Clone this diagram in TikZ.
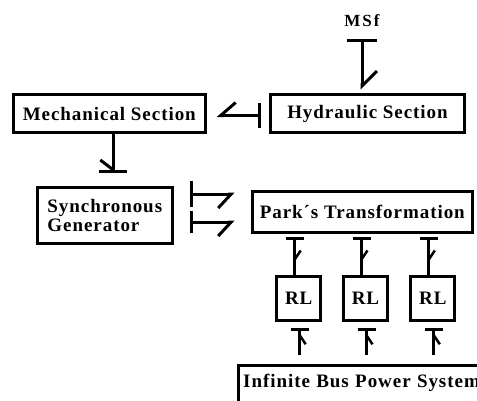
\documentclass[tikz,border=0pt]{standalone}
\usepackage{fontspec}
\setmainfont{Liberation Serif}
\newfontfamily\blockfont[LetterSpace=5]{Liberation Serif}
\newfontfamily\sourcefont[LetterSpace=12]{Liberation Serif}
\usetikzlibrary{arrows.meta,decorations.markings}

\begin{document}
\begin{tikzpicture}[x=1pt, y=-1pt,
    flag/.style={postaction={decorate, decoration={markings,
        mark=at position #1 with {\arrow{Straight Barb[harpoon, length=9pt, width=12pt, line width=2.5pt]}}}}},
    flag swap/.style={postaction={decorate, decoration={markings,
        mark=at position #1 with {\arrow{Straight Barb[harpoon, swap, length=9pt, width=12pt, line width=2.5pt]}}}}}]
    \tikzstyle{every node}+=[inner sep=0pt]
    \tikzstyle{block}=[draw=black, line width=3pt, font=\blockfont\bfseries\fontsize{19}{18.5}\selectfont]
    \tikzstyle{bond}=[black, line width=3pt]
    \path [use as bounding box, clip] (0,0) rectangle (477,400);
    % blocks
    \node [block, minimum width=191.7pt, minimum height=38.6pt] (mech) at (109.3,113.5) {Mechanical Section};
    \node [block, minimum width=193.4pt, minimum height=38.6pt] (hyd) at (367.5,113.5) {Hydraulic Section};
    \node [block, minimum width=135.3pt, minimum height=56pt, align=left] (sg) at (104.8,215.5) {Synchronous\\Generator};
    \node [block, minimum width=220.3pt, minimum height=41.3pt] (park) at (362.3,212.2) {Park´s Transformation};
    \node [block, minimum size=44.3pt] (rl1) at (298.7,298.7) {RL};
    \node [block, minimum size=44.3pt] (rl2) at (365.5,298.7) {RL};
    \node [block, minimum size=44.3pt] (rl3) at (432.8,298.7) {RL};
    \node [block, anchor=base west, inner xsep=5pt, text width=280pt, text height=21.5pt, text depth=40pt] (bus) at (236.7,387.3) {Infinite Bus Power System};
    \node [font=\sourcefont\bfseries\fontsize{17}{17}\selectfont, anchor=base] (msf) at (362,26) {MSf};
    % bonds
    \draw [bond, {Bar[width=30pt]}-{Straight Barb[harpoon, length=15pt, width=30pt]}] ([yshift=-13pt]msf.base) -- ([yshift=3pt]msf.base |- hyd.north);
    \draw [bond, {Bar[width=25pt]}-{Straight Barb[harpoon, swap, length=15pt, width=26pt]}] ([xshift=-8pt, yshift=-2pt]hyd.west) -- ([xshift=10pt, yshift=-2pt]mech.east);
    \draw [bond, -{Straight Barb[harpoon, swap, length=10pt, width=26pt]}, postaction={draw, -{Bar[width=28pt]}}] ([xshift=4pt]mech.south) -- ([xshift=4pt, yshift=13pt]mech.south |- sg.north);
    \draw [bond, {Bar[width=26pt]}-{Straight Barb[harpoon, swap, length=13pt, width=28pt]}] ([xshift=16pt, yshift=21.5pt]sg.east) -- ([xshift=-16pt, yshift=21.5pt]sg.east -| park.west);
    \draw [bond, {Bar[width=22pt]}-{Straight Barb[harpoon, swap, length=13pt, width=28pt]}] ([xshift=16pt, yshift=-6.5pt]sg.east) -- ([xshift=-16pt, yshift=-6.5pt]sg.east -| park.west);
    % Park's to the RL blocks
    \draw [bond, {Bar[width=18pt]}-, flag=0.7] ([xshift=-4pt, yshift=-2.5pt]rl1.north |- park.south) -- ([xshift=-4pt]rl1.north);
    \draw [bond, {Bar[width=18pt]}-, flag=0.7] ([xshift=-4pt, yshift=-2.5pt]rl2.north |- park.south) -- ([xshift=-4pt]rl2.north);
    \draw [bond, {Bar[width=18pt]}-, flag=0.7] ([xshift=-4pt, yshift=-2.5pt]rl3.north |- park.south) -- ([xshift=-4pt]rl3.north);
    % bus to the RL blocks
    \draw [bond, -{Bar[width=18pt]}, flag swap=0.88] ([xshift=1pt, yshift=9pt]rl1.south |- bus.north) -- ([xshift=1pt, yshift=-5.5pt]rl1.south);
    \draw [bond, -{Bar[width=18pt]}, flag swap=0.88] ([xshift=1pt, yshift=9pt]rl2.south |- bus.north) -- ([xshift=1pt, yshift=-5.5pt]rl2.south);
    \draw [bond, -{Bar[width=18pt]}, flag swap=0.88] ([xshift=1pt, yshift=9pt]rl3.south |- bus.north) -- ([xshift=1pt, yshift=-5.5pt]rl3.south);
\end{tikzpicture}
\end{document}
